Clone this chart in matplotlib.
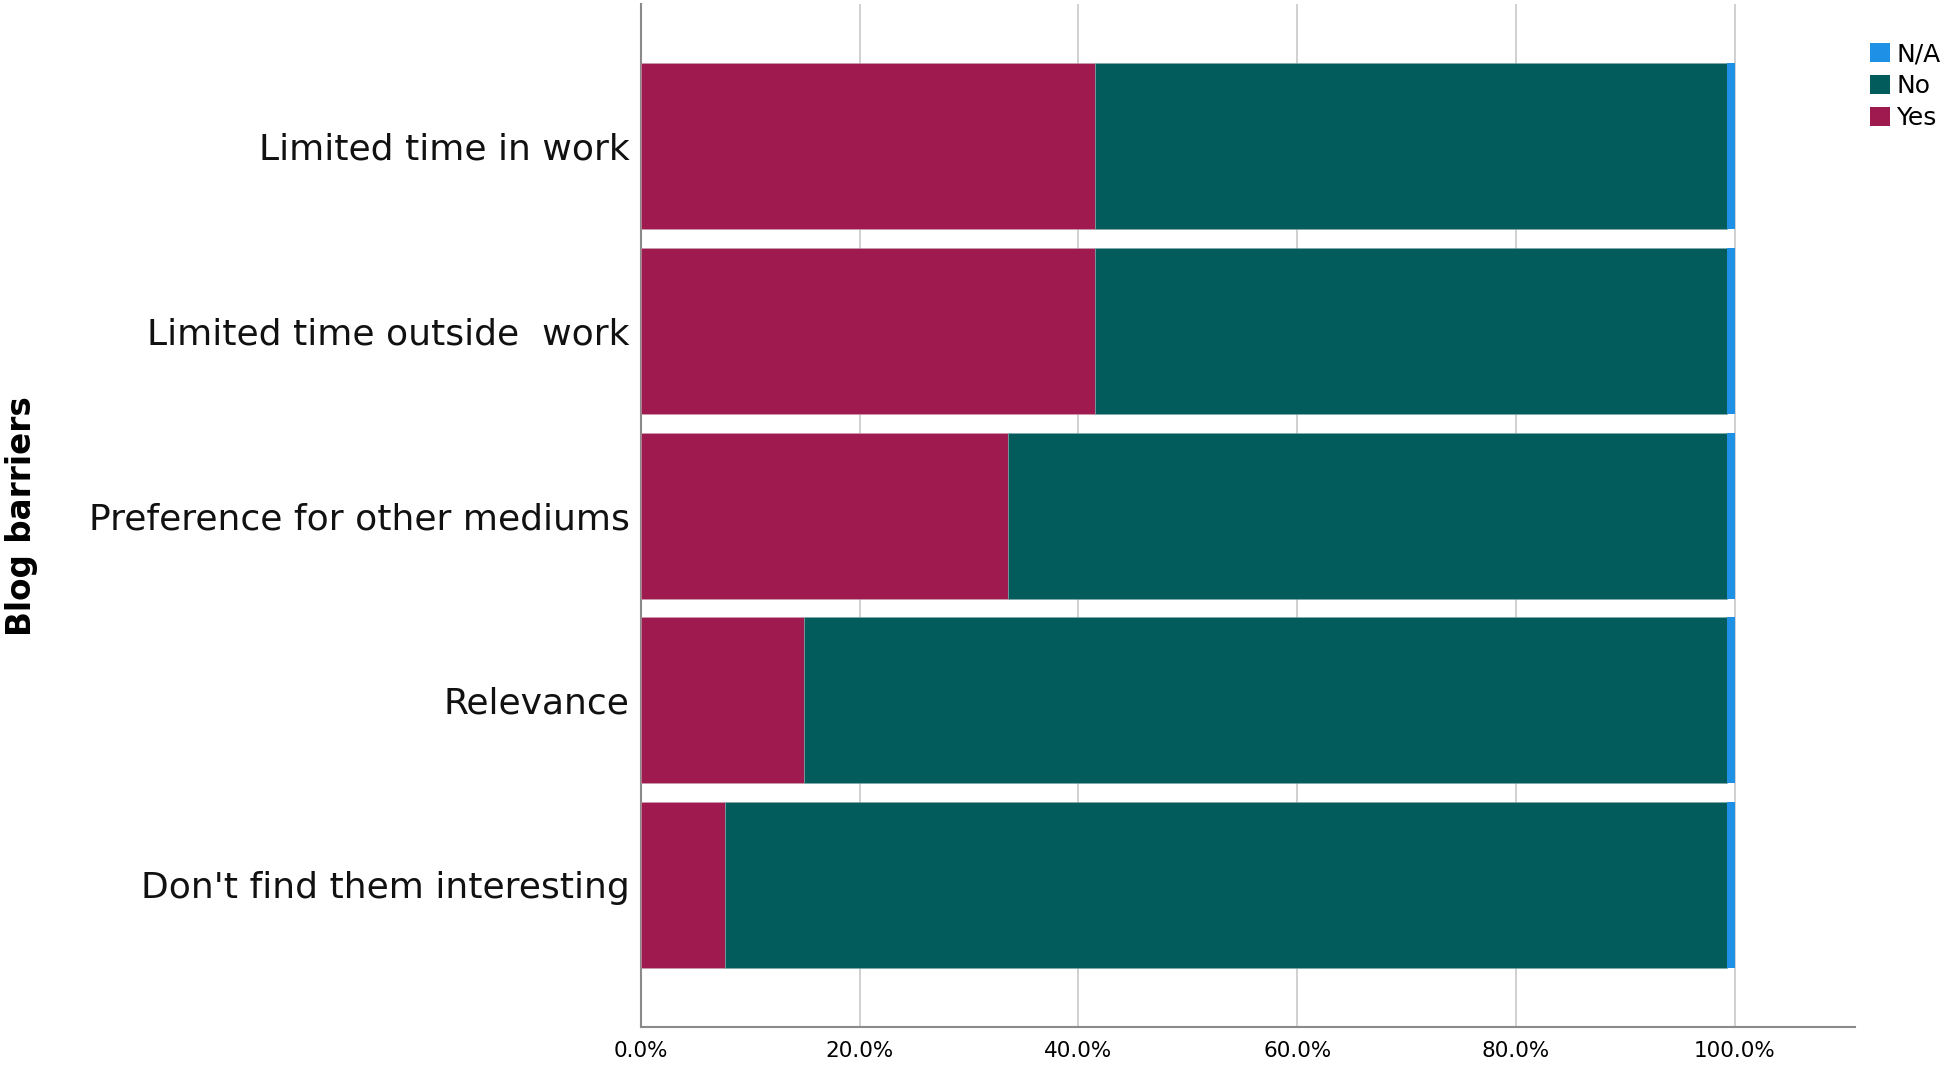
import matplotlib.pyplot as plt
from matplotlib.patches import Patch

# ==============================
# Data (percent of respondents)
# ==============================
barriers = [
    "Limited time in work",
    "Limited time outside  work",
    "Preference for other mediums",
    "Relevance",
    "Don't find them interesting",
]
yes_pct = [41.5, 41.5, 33.6, 14.9, 7.7]
no_pct = [57.8, 57.8, 65.7, 84.4, 91.6]
na_pct = [0.7, 0.7, 0.7, 0.7, 0.7]

c_yes = "#9E1A4F"
c_no = "#025C5B"
c_na = "#1E90E6"

# ==============================
# Setup
# ==============================
plt.rcParams["font.family"] = ["DejaVu Sans"]
fig = plt.figure(figsize=(19.44, 10.69), dpi=100)
ax = fig.add_axes([0.3297, 0.0393, 0.6245, 0.9567])

ypos = list(range(len(barriers)))
h = 0.9

ax.barh(ypos, yes_pct, height=h, color=c_yes, edgecolor="#c8a0b0", linewidth=0.4, zorder=3)
ax.barh(ypos, no_pct, left=yes_pct, height=h, color=c_no, edgecolor="#7fa8a8", linewidth=0.4, zorder=3)
left_na = [y + n for y, n in zip(yes_pct, no_pct)]
ax.barh(ypos, na_pct, left=left_na, height=h, color=c_na, linewidth=0, zorder=3)

ax.set_xlim(0, 111)
ax.set_ylim(len(barriers) - 1 + 0.77, -0.77)

ax.set_xticks([0, 20, 40, 60, 80, 100])
ax.set_xticklabels([f"{v:.1f}%" for v in [0, 20, 40, 60, 80, 100]], fontsize=15.5)
ax.set_yticks(ypos)
ax.set_yticklabels(barriers, fontsize=26, color="#111111")
ax.tick_params(axis="both", length=0)
ax.tick_params(axis="x", pad=10)
ax.tick_params(axis="y", pad=8)

ax.xaxis.grid(True, color="#c8c8c8", linewidth=1.2, zorder=0)
ax.set_axisbelow(True)

for s in ["top", "right"]:
    ax.spines[s].set_visible(False)
for s in ["left", "bottom"]:
    ax.spines[s].set_color("#8a8a8a")
    ax.spines[s].set_linewidth(1.5)

ax.set_ylabel("Blog barriers", fontsize=23.5, fontweight="bold")
ax.yaxis.set_label_coords(-0.497, 0.5)

# ==============================
# Legend
# ==============================
handles = [
    Patch(facecolor=c_na, label="N/A"),
    Patch(facecolor=c_no, label="No"),
    Patch(facecolor=c_yes, label="Yes"),
]
fig.legend(
    handles=handles, loc="upper left",
    bbox_to_anchor=(1855 / 1944, 1 - 27 / 1069),
    frameon=False, fontsize=18,
    handlelength=0.8, handleheight=0.8,
    handletextpad=0.25, labelspacing=0.32, borderpad=0.1,
)

fig.savefig("out.png", dpi=100)
